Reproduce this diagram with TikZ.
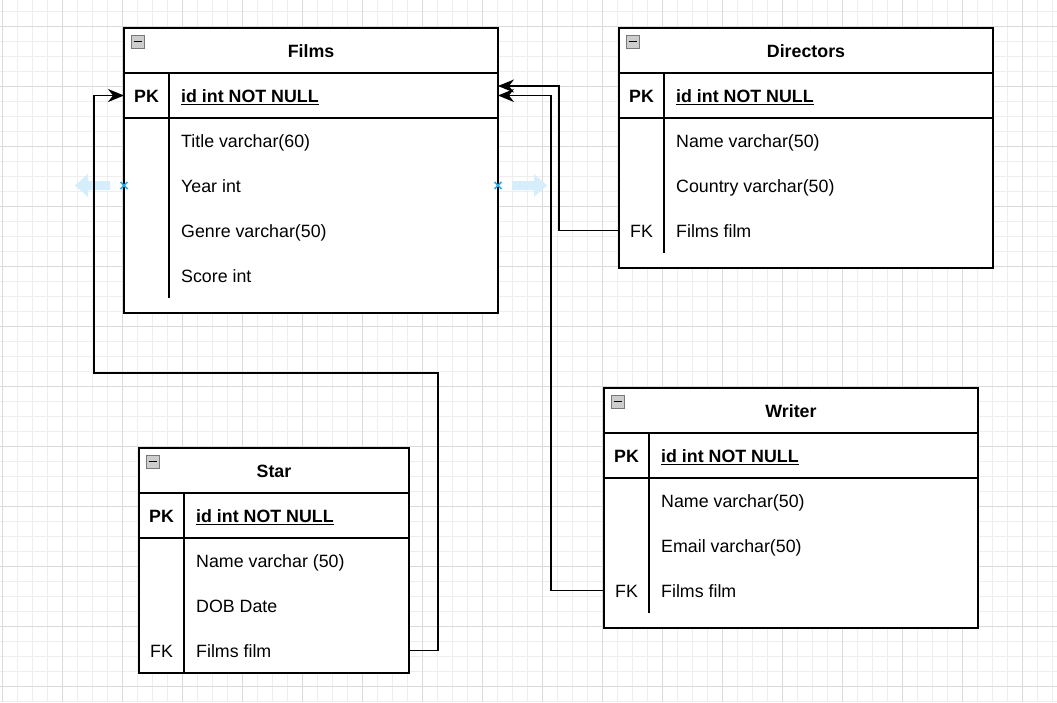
\documentclass[tikz,border=0pt]{standalone}
\usepackage{fontspec}
\setmainfont{Liberation Sans}
\usetikzlibrary{arrows.meta,calc}
\definecolor{gminor}{RGB}{238,238,238}
\definecolor{gmajor}{RGB}{218,218,218}
\definecolor{hintblue}{RGB}{41,170,230}
\definecolor{hintfill}{RGB}{214,238,251}
\definecolor{iconfill}{RGB}{205,205,205}
\definecolor{icondraw}{RGB}{120,120,120}
\newcommand{\fsz}{\fontsize{17.8}{20}\selectfont}
\tikzset{
  ln/.style={line width=1.3pt, draw=black},
  tablebox/.style={draw=black, line width=1.3pt, fill=white, inner sep=0pt, outer sep=0pt, anchor=north west, minimum height=#1},
  rowspan/.style={inner sep=0pt, outer sep=0pt, anchor=north west, minimum height=45, minimum width=#1},
  hdrtext/.style={font=\fsz\bfseries, inner sep=0pt, anchor=base},
  keytext/.style={font=\fsz, inner sep=0pt, anchor=base},
  pktext/.style={font=\fsz\bfseries, inner sep=0pt, anchor=base},
  fieldtext/.style={font=\fsz, inner sep=0pt, anchor=base west},
  conn/.style={line width=1.3pt, draw=black, -{Stealth[length=16pt,width=13pt,inset=5pt]}},
  icon/.style={draw=icondraw, fill=iconfill, line width=0.8pt},
}
\begin{document}
\begin{tikzpicture}[x=1pt,y=-1pt]
\useasboundingbox (0,0) rectangle (1057,702);
\fill[white] (0,0) rectangle (1057,702);
% grid
\foreach \x in {2,17,...,1057} \draw[gminor, line width=0.8pt] (\x,0) -- (\x,702);
\foreach \y in {11,26,...,702} \draw[gminor, line width=0.8pt] (0,\y) -- (1057,\y);
\foreach \x in {2,62,...,1057} \draw[gmajor, line width=0.8pt] (\x,0) -- (\x,702);
\foreach \y in {26,86,...,702} \draw[gmajor, line width=0.8pt] (0,\y) -- (1057,\y);

% hover arrows around Films
\fill[hintfill] (110,181) -- (88,181) -- (88,174) -- (75,185.5) -- (88,197) -- (88,190) -- (110,190) -- cycle;
\fill[hintfill] (512,181) -- (534,181) -- (534,174) -- (547,185.5) -- (534,197) -- (534,190) -- (512,190) -- cycle;

% ---------- Films ----------
\node[tablebox=285, minimum width=374] (films) at (124,28) {};
\draw[icon] (131,35) rectangle (144,48);
\draw[line width=1.5pt] (133.5,41.5) -- (141.5,41.5);
\node[hdrtext] (filmsh) at (311,57.5) {Films};
\draw[ln] (124,73) -- (498,73);
\draw[ln] (124,118) -- (498,118);
\draw[ln] (169,73) -- (169,298);
\node[rowspan=374] (filmspk) at (124,73) {};
\node[pktext] (filmspkk) at (146.5,102.5) {PK};
\node[fieldtext, font=\fsz\bfseries] (filmspkf) at (181,102.5) {\underline{id int NOT NULL}};
\node[fieldtext] (filmsf1) at (181,147.5) {Title varchar(60)};
\node[fieldtext] (filmsf2) at (181,192.5) {Year int};
\node[fieldtext] (filmsf3) at (181,237.5) {Genre varchar(50)};
\node[fieldtext] (filmsf4) at (181,282.5) {Score int};

% ---------- Directors ----------
\node[tablebox=240, minimum width=374] (dirs) at (619,28) {};
\draw[icon] (626,35) rectangle (639,48);
\draw[line width=1.5pt] (628.5,41.5) -- (636.5,41.5);
\node[hdrtext] (dirsh) at (806,57.5) {Directors};
\draw[ln] (619,73) -- (993,73);
\draw[ln] (619,118) -- (993,118);
\draw[ln] (664,73) -- (664,253);
\node[pktext] (dirspkk) at (641.5,102.5) {PK};
\node[fieldtext, font=\fsz\bfseries] (dirspkf) at (676,102.5) {\underline{id int NOT NULL}};
\node[fieldtext] (dirsf1) at (676,147.5) {Name varchar(50)};
\node[fieldtext] (dirsf2) at (676,192.5) {Country varchar(50)};
\node[rowspan=374] (dirsfk) at (619,208) {};
\node[keytext] (dirsfkk) at (641.5,237.5) {FK};
\node[fieldtext] (dirsf3) at (676,237.5) {Films film};

% ---------- Writer ----------
\node[tablebox=240, minimum width=374] (writer) at (604,388) {};
\draw[icon] (611,395) rectangle (624,408);
\draw[line width=1.5pt] (613.5,401.5) -- (621.5,401.5);
\node[hdrtext] (writerh) at (791,417.5) {Writer};
\draw[ln] (604,433) -- (978,433);
\draw[ln] (604,478) -- (978,478);
\draw[ln] (649,433) -- (649,613);
\node[pktext] (writerpkk) at (626.5,462.5) {PK};
\node[fieldtext, font=\fsz\bfseries] (writerpkf) at (661,462.5) {\underline{id int NOT NULL}};
\node[fieldtext] (writerf1) at (661,507.5) {Name varchar(50)};
\node[fieldtext] (writerf2) at (661,552.5) {Email varchar(50)};
\node[rowspan=374] (writerfk) at (604,568) {};
\node[keytext] (writerfkk) at (626.5,597.5) {FK};
\node[fieldtext] (writerf3) at (661,597.5) {Films film};

% ---------- Star ----------
\node[tablebox=225, minimum width=270] (star) at (139,448) {};
\draw[icon] (146,455) rectangle (159,468);
\draw[line width=1.5pt] (148.5,461.5) -- (156.5,461.5);
\node[hdrtext] (starh) at (274,477.5) {Star};
\draw[ln] (139,493) -- (409,493);
\draw[ln] (139,538) -- (409,538);
\draw[ln] (184,493) -- (184,673);
\node[pktext] (starpkk) at (161.5,522.5) {PK};
\node[fieldtext, font=\fsz\bfseries] (starpkf) at (196,522.5) {\underline{id int NOT NULL}};
\node[fieldtext] (starf1) at (196,567.5) {Name varchar (50)};
\node[fieldtext] (starf2) at (196,612.5) {DOB Date};
\node[rowspan=270] (starfk) at (139,628) {};
\node[keytext] (starfkk) at (161.5,657.5) {FK};
\node[fieldtext] (starf3) at (196,657.5) {Films film};

% hover x marks
\draw[hintblue, line width=1.5pt] (120.5,182) -- (127.5,189) (120.5,189) -- (127.5,182);
\draw[hintblue, line width=1.5pt] (494.5,182) -- (501.5,189) (494.5,189) -- (501.5,182);

% ---------- connectors ----------
\coordinate (filmsup) at ($(filmspk.east)+(0,-9.5)$);
\draw[conn] (starfk.east) -- (438,650.5) -- (438,373) -- (94,373) -- (94,95.5) -- (filmspk.west);
\draw[conn] (dirsfk.west) -- (559,230.5) -- (559,86) -- (filmsup);
\draw[conn] (writerfk.west) -- (551,590.5) -- (551,95.5) -- (filmspk.east);
\end{tikzpicture}
\end{document}
